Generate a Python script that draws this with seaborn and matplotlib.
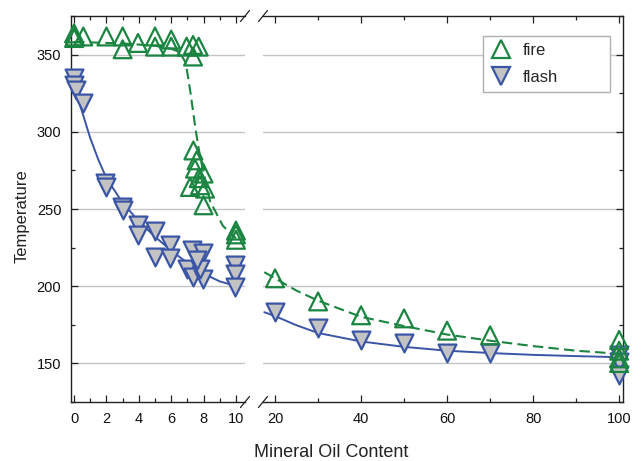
import numpy as np
import pandas as pd
import matplotlib
matplotlib.use("Agg")
import matplotlib.pyplot as plt
from matplotlib.lines import Line2D
from matplotlib.ticker import MultipleLocator
import seaborn as sns

sns.set_style("white")
plt.rcParams['font.family'] = ['Liberation Sans', 'DejaVu Sans']

# ---- data ----
fire_left_x = [0, 0, 0.05, 0.57, 2.0, 3.0, 3.0, 3.95, 5.0, 5.0, 6.0, 6.0, 6.95, 7.35, 7.35, 7.7,
               7.37, 7.57, 7.47, 8.0, 7.16, 7.78, 8.09, 8.0, 7.7, 10, 10, 10]
fire_left_y = [364, 361, 362, 362, 362, 362, 353.7, 357.8, 362, 355.4, 360, 355.4, 355.4, 356.5, 349, 355.4,
               288, 281.6, 276.2, 273, 264.3, 265.4, 263.2, 252.4, 270, 236, 233.5, 230]
flash_left_x = [0, 0, 0.1, 0.57, 1.9, 2.0, 2.95, 3.0, 3.97, 3.97, 5.0, 5.0, 5.93, 5.93, 7.26, 7.98,
                6.95, 7.36, 7.98, 7.78, 7.57, 9.94, 9.94, 9.94]
flash_left_y = [335, 330.5, 327, 318.6, 266.7, 264.5, 251, 249.5, 239.6, 233.1, 235.7, 218.8, 226.6, 218,
                223.4, 221.2, 211.2, 205.8, 204.7, 211.2, 216.6, 213.4, 208, 199.3]

fire_right_x = [20, 30, 40, 50, 60, 70, 100, 100, 100, 100]
fire_right_y = [205, 190, 181, 179, 171, 168, 165, 158, 153, 150]
flash_right_x = [20, 30, 40, 50, 60, 70, 100, 100, 100]
flash_right_y = [183, 172.5, 165, 163, 156.5, 156.5, 155, 150.5, 142]

# fitted curves
fire_fit_left_x = [0, 3, 5, 6, 6.5, 6.9, 7.2, 7.5, 7.8, 8.0, 8.4, 9.2, 10]
fire_fit_left_y = [358.5, 357.5, 356, 354, 352, 345, 325, 302, 283, 274, 255, 239, 231]
flash_fit_left_x = [0, 0.5, 1, 1.5, 2, 3, 4, 5, 6, 7, 8, 9, 10]
flash_fit_left_y = [331, 313, 296, 282, 270, 254, 242, 232, 223, 215, 208, 203, 200]
fire_fit_right_x = [17.5, 20, 25, 30, 40, 50, 60, 70, 80, 90, 100]
fire_fit_right_y = [209, 205, 197, 190.5, 180, 174, 168.5, 164.5, 161, 158, 156]
flash_fit_right_x = [17.5, 20, 25, 30, 40, 50, 60, 70, 80, 90, 100]
flash_fit_right_y = [183, 180.5, 174.5, 169.5, 164, 160.5, 158, 156.5, 155.3, 154.5, 153.8]

GREEN = '#1a8540'
BLUE = '#3a55a5'
GRAYFILL = '#c3c3c3'
GRID = '#c4c4c4'

fig = plt.figure(figsize=(6.44, 4.61), dpi=100)
W, H = 644, 461
def rect(x0, y0, x1, y1):
    return [x0 / W, 1 - y1 / H, (x1 - x0) / W, (y1 - y0) / H]

axL = fig.add_axes(rect(71, 16, 245, 402))
axR = fig.add_axes(rect(263, 16, 623, 402))

ylim = (124.7, 375.3)
for ax in (axL, axR):
    ax.set_ylim(*ylim)
    ax.yaxis.set_major_locator(MultipleLocator(50))
    ax.yaxis.set_minor_locator(MultipleLocator(25))
    ax.grid(axis='y', which='major', color=GRID, linewidth=1.0, zorder=0)
    ax.set_axisbelow(True)
    for s in ax.spines.values():
        s.set_color('#222222')
        s.set_linewidth(1.0)
    ax.tick_params(which='both', direction='in', colors='#222222', labelsize=10.5,
                   top=True, bottom=True)
    ax.tick_params(which='major', length=5, width=0.9, pad=7)
    ax.tick_params(which='minor', length=3, width=0.9)
    ax.tick_params(axis='both', which='both', labelcolor='#111111')

axL.set_xlim(-0.19, 10.56)
axL.xaxis.set_major_locator(MultipleLocator(2))
axL.xaxis.set_minor_locator(MultipleLocator(1))
axL.spines['right'].set_visible(False)
axL.tick_params(axis='y', which='both', left=True, right=False)

axR.set_xlim(17.2, 100.9)
axR.xaxis.set_major_locator(MultipleLocator(20))
axR.xaxis.set_minor_locator(MultipleLocator(10))
axR.set_xticks([20, 40, 60, 80, 100])
axR.spines['left'].set_visible(False)
axR.tick_params(axis='y', which='both', left=False, right=True, labelleft=False)

for ax in (axL, axR):
    ax.tick_params(axis='x', which='both', labeltop=False)

# curves
sns.lineplot(x=fire_fit_left_x, y=fire_fit_left_y, ax=axL, color=GREEN, lw=1.5,
             linestyle=(0, (5, 2.5)), zorder=2, sort=False)
sns.lineplot(x=flash_fit_left_x, y=flash_fit_left_y, ax=axL, color=BLUE, lw=1.4, zorder=2, sort=False)
sns.lineplot(x=fire_fit_right_x, y=fire_fit_right_y, ax=axR, color=GREEN, lw=1.5,
             linestyle=(0, (5, 2.5)), zorder=2, sort=False)
sns.lineplot(x=flash_fit_right_x, y=flash_fit_right_y, ax=axR, color=BLUE, lw=1.4, zorder=2, sort=False)

MS = 165
def pts(ax, x, y, fire):
    if fire:
        sns.scatterplot(x=x, y=y, ax=ax, marker='^', s=MS, facecolor='none',
                        edgecolor=GREEN, linewidth=1.6, zorder=4, clip_on=False)
    else:
        sns.scatterplot(x=x, y=y, ax=ax, marker='v', s=MS, facecolor=GRAYFILL,
                        edgecolor=BLUE, linewidth=1.6, zorder=3, clip_on=False)

pts(axL, flash_left_x, flash_left_y, False)
pts(axL, fire_left_x, fire_left_y, True)
pts(axR, flash_right_x, flash_right_y, False)
pts(axR, fire_right_x, fire_right_y, True)

for ax in (axL, axR):
    ax.set_xlabel('')
    ax.set_ylabel('')

# break marks
def brk(ax, xfrac):
    bb = ax.get_position()
    dx = 4.5 / (bb.width * W)
    dy = 5.5 / (bb.height * H)
    for yy in (0, 1):
        ax.plot([xfrac - dx, xfrac + dx], [yy - dy, yy + dy], transform=ax.transAxes,
                color='#222222', lw=0.9, clip_on=False)

brk(axL, 1.0)
brk(axR, 0.0)

# legend
handles = [
    Line2D([], [], marker='^', linestyle='none', markersize=13, markerfacecolor='none',
           markeredgecolor=GREEN, markeredgewidth=1.6, label='fire'),
    Line2D([], [], marker='v', linestyle='none', markersize=13, markerfacecolor=GRAYFILL,
           markeredgecolor=BLUE, markeredgewidth=1.6, label='flash'),
]
lx0 = (483 - 263) / 360
lx1 = (610 - 263) / 360
ly1 = 1 - (36 - 16) / 386
ly0 = 1 - (92 - 16) / 386
leg = axR.legend(handles=handles, loc='upper left',
                 bbox_to_anchor=(lx0, ly0, lx1 - lx0, ly1 - ly0), mode='expand',
                 frameon=True, fancybox=False, fontsize=12, handletextpad=0.6,
                 handlelength=1.4, borderpad=0.4, labelspacing=0.75, borderaxespad=0)
leg.get_frame().set_edgecolor('#b0b0b0')
leg.get_frame().set_linewidth(1.0)
leg.get_frame().set_alpha(1)

fig.text(331 / W, 1 - 452 / H, 'Mineral Oil Content', ha='center', va='center', fontsize=13, color='#222222')
fig.text(22 / W, 1 - 216 / H, 'Temperature', ha='center', va='center', rotation=90, fontsize=12, color='#222222')

fig.savefig('out.png', dpi=100)
